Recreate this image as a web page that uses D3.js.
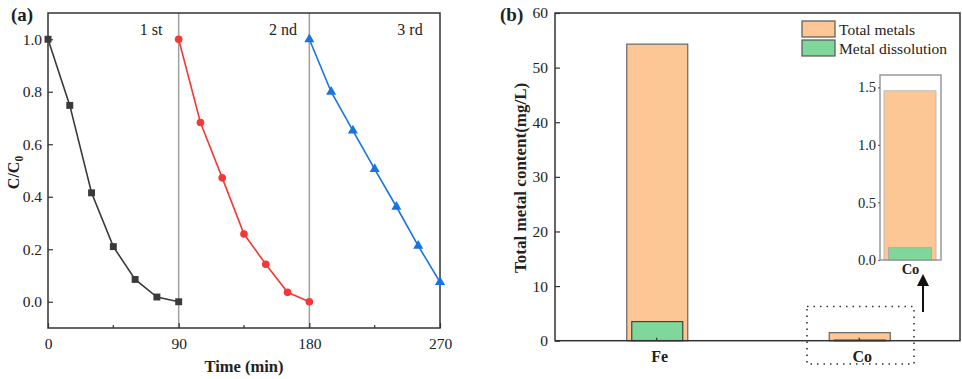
<!DOCTYPE html>
<html><head><meta charset="utf-8">
<script src="https://cdn.jsdelivr.net/npm/d3@7"></script>
<style>body{margin:0;background:#fff}svg{display:block;font-family:"Liberation Serif","Times New Roman",serif}</style>
</head><body><svg id="c" width="962" height="379"></svg>
<script>
// ---- data panel (a)
const cycleLabels = ["1 st", "2 nd", "3 rd"];
const time1 = [0, 15, 30, 45, 60, 75, 90];
const cycle1 = [1.0, 0.748, 0.415, 0.21, 0.085, 0.018, 0.0];
const time2 = [90, 105, 120, 135, 150, 165, 180];
const cycle2 = [1.0, 0.683, 0.472, 0.258, 0.143, 0.036, 0.0];
const time3 = [180, 195, 210, 225, 240, 255, 270];
const cycle3 = [1.0, 0.80, 0.652, 0.505, 0.362, 0.213, 0.075];
const xTicksA = [0, 90, 180, 270];
const yTicksA = [0.0, 0.2, 0.4, 0.6, 0.8, 1.0];
// ---- data panel (b)
const metals = ["Fe", "Co"];
const totalMetals = [54.3, 1.47];
const metalDissolution = [3.5, 0.107];
const yTicksB = [0, 10, 20, 30, 40, 50, 60];
const insetTicks = [0.0, 0.5, 1.0, 1.5];
const legendLabels = ["Total metals", "Metal dissolution"];

const svg = d3.select("#c");
const colTotal = "#FDC795", colDiss = "#7FD79B";
const styleTicks = (a, fs, bold) => {
  a.select(".domain").remove();
  a.selectAll("text").attr("font-size", fs).attr("font-family", "Liberation Serif").attr("fill", "#222")
    .attr("font-weight", bold ? "bold" : "normal");
  a.selectAll("line").attr("stroke", "#333").attr("stroke-width", 1.2);
};

// ===== Panel (a)
const ax = {l: 48, r: 440, t: 13, b: 328};
const xA = d3.scaleLinear().domain([0, 270]).range([ax.l, ax.r]);
const yA = d3.scaleLinear().domain([-0.1, 1.1]).range([ax.b, ax.t]);
const gA = svg.append("g");
[90, 180].forEach(v => gA.append("line").attr("x1", xA(v)).attr("x2", xA(v)).attr("y1", ax.t).attr("y2", ax.b)
  .attr("stroke", "#a0a0a0").attr("stroke-width", 1.5));
gA.append("rect").attr("x", ax.l).attr("y", ax.t).attr("width", ax.r - ax.l).attr("height", ax.b - ax.t)
  .attr("fill", "none").attr("stroke", "#333").attr("stroke-width", 1.5);
const axA_b = gA.append("g").attr("transform", `translate(0,${ax.b})`)
  .call(d3.axisBottom(xA).tickValues(xTicksA).tickSizeInner(-5).tickSizeOuter(0).tickPadding(10).tickFormat(d3.format("d")));
styleTicks(axA_b, 15.5);
gA.selectAll(".mx").data([45, 135, 225]).join("line").attr("x1", d => xA(d)).attr("x2", d => xA(d))
  .attr("y1", ax.b).attr("y2", ax.b - 3).attr("stroke", "#333").attr("stroke-width", 1.2);
const axA_l = gA.append("g").attr("transform", `translate(${ax.l},0)`)
  .call(d3.axisLeft(yA).tickValues(yTicksA).tickSizeInner(-5).tickSizeOuter(0).tickPadding(6).tickFormat(d3.format(".1f")));
styleTicks(axA_l, 15.5);

const line = d3.line().x(d => xA(d[0])).y(d => yA(d[1]));
const seriesA = [
  {t: time1, v: cycle1, c: "#3a3a3a", sym: d3.symbolSquare, size: 48},
  {t: time2, v: cycle2, c: "#F43838", sym: d3.symbolCircle, size: 46},
  {t: time3, v: cycle3, c: "#1874E0", sym: d3.symbolTriangle, size: 44}
];
seriesA.forEach(s => {
  const pts = s.t.map((t, i) => [t, s.v[i]]);
  gA.append("path").datum(pts).attr("d", line).attr("fill", "none").attr("stroke", s.c).attr("stroke-width", 1.6);
  gA.selectAll(null).data(pts).join("path")
    .attr("transform", d => `translate(${xA(d[0])},${yA(d[1])})`)
    .attr("d", d3.symbol(s.sym, s.size)).attr("fill", s.c);
});
[[151, 0], [283, 1], [410, 2]].forEach(([x, i]) =>
  gA.append("text").attr("x", x).attr("y", 35).attr("text-anchor", "middle").attr("font-size", 16).attr("fill", "#222").text(cycleLabels[i]));
gA.append("text").attr("x", 11).attr("y", 21).attr("font-size", 19).attr("font-weight", "bold").attr("fill", "#222").text("(a)");
gA.append("text").attr("x", 244).attr("y", 372).attr("text-anchor", "middle").attr("font-size", 16.5).attr("font-weight", "bold").attr("fill", "#222").text("Time (min)");
const yl = gA.append("text").attr("transform", `translate(19,${(ax.t + ax.b) / 2 + 2}) rotate(-90)`).attr("text-anchor", "middle")
  .attr("font-size", 16).attr("font-weight", "bold").attr("fill", "#222");
yl.append("tspan").text("C/C");
yl.append("tspan").attr("font-size", 11.5).attr("dy", 4).text("0");

// ===== Panel (b)
const bx = {l: 555, r: 960, t: 13, b: 340.7};
const xB = d3.scalePoint().domain(metals).range([bx.l, bx.r]).padding(0.5);
const yB = d3.scaleLinear().domain([0, 60]).range([bx.b, bx.t]);
const gB = svg.append("g");
const bwT = 61, bwD = 51;
gB.selectAll(".tb").data(metals).join("rect").attr("x", d => xB(d) - bwT / 2 + 1).attr("width", bwT)
  .attr("y", (d, i) => yB(totalMetals[i])).attr("height", (d, i) => yB(0) - yB(totalMetals[i]))
  .attr("fill", colTotal).attr("stroke", "#666").attr("stroke-width", 1.2);
gB.selectAll(".db").data(metals).join("rect").attr("x", d => xB(d) - bwD / 2 + 1).attr("width", bwD)
  .attr("y", (d, i) => yB(metalDissolution[i])).attr("height", (d, i) => yB(0) - yB(metalDissolution[i]))
  .attr("fill", colDiss).attr("stroke", "#444").attr("stroke-width", 1.2);
gB.append("rect").attr("x", bx.l).attr("y", bx.t).attr("width", bx.r - bx.l).attr("height", bx.b - bx.t)
  .attr("fill", "none").attr("stroke", "#333").attr("stroke-width", 1.5);
const axB_l = gB.append("g").attr("transform", `translate(${bx.l},0)`)
  .call(d3.axisLeft(yB).tickValues(yTicksB).tickSizeInner(-5).tickSizeOuter(0).tickPadding(7));
styleTicks(axB_l, 15.5);
const axB_b = gB.append("g").attr("transform", `translate(0,${bx.b})`)
  .call(d3.axisBottom(xB).tickSizeInner(-3).tickSizeOuter(0).tickPadding(10));
styleTicks(axB_b, 16, true);
axB_b.selectAll("text").attr("dx", 3);
gB.append("text").attr("x", 500).attr("y", 21).attr("font-size", 19).attr("font-weight", "bold").attr("fill", "#222").text("(b)");
gB.append("text").attr("transform", `translate(526,${(bx.t + bx.b) / 2 + 1}) rotate(-90)`).attr("text-anchor", "middle")
  .attr("font-size", 17).attr("font-weight", "bold").attr("fill", "#222").text("Total metal content(mg/L)");
legendLabels.forEach((lab, i) => {
  gB.append("rect").attr("x", 802).attr("y", 21 + i * 19).attr("width", 33).attr("height", 16)
    .attr("fill", i ? colDiss : colTotal).attr("stroke", "#555").attr("stroke-width", 1.2);
  gB.append("text").attr("x", 839).attr("y", 34.5 + i * 19).attr("font-size", 15.5).attr("fill", "#222").text(lab);
});
gB.append("rect").attr("x", 807).attr("y", 306.5).attr("width", 107).attr("height", 57.5)
  .attr("fill", "none").attr("stroke", "#333").attr("stroke-width", 1.6).attr("stroke-dasharray", "1.5,5");
gB.append("line").attr("x1", 923).attr("x2", 923).attr("y1", 312).attr("y2", 283).attr("stroke", "#111").attr("stroke-width", 2);
gB.append("path").attr("d", "M917,286 L923,274 L929,286 Z").attr("fill", "#111");
// inset
const ins = {l: 880, r: 941, t: 75, b: 260};
const yI = d3.scaleLinear().domain([0, 1.5]).range([ins.b, 87.3]);
const xI = d3.scaleBand().domain(["Co"]).range([ins.l, ins.r]);
const ci = metals.indexOf("Co");
gB.append("rect").attr("x", 884).attr("width", 52).attr("y", yI(totalMetals[ci])).attr("height", yI(0) - yI(totalMetals[ci]))
  .attr("fill", colTotal).attr("stroke", "#bbb").attr("stroke-width", 1);
gB.append("rect").attr("x", 888.5).attr("width", 43).attr("y", yI(metalDissolution[ci])).attr("height", yI(0) - yI(metalDissolution[ci]))
  .attr("fill", colDiss).attr("stroke", "#aaa").attr("stroke-width", 1);
gB.append("rect").attr("x", ins.l).attr("y", ins.t).attr("width", ins.r - ins.l).attr("height", ins.b - ins.t)
  .attr("fill", "none").attr("stroke", "#999").attr("stroke-width", 1.5);
const axI = gB.append("g").attr("transform", `translate(${ins.l},0)`)
  .call(d3.axisLeft(yI).tickValues(insetTicks).tickSize(2).tickPadding(2).tickFormat(d3.format(".1f")));
styleTicks(axI, 14.5);
axI.selectAll("line").attr("stroke", "#666");
const axIb = gB.append("g").attr("transform", `translate(0,${ins.b})`).call(d3.axisBottom(xI).tickSize(0).tickPadding(4));
styleTicks(axIb, 14.5, true);
</script></body></html>
